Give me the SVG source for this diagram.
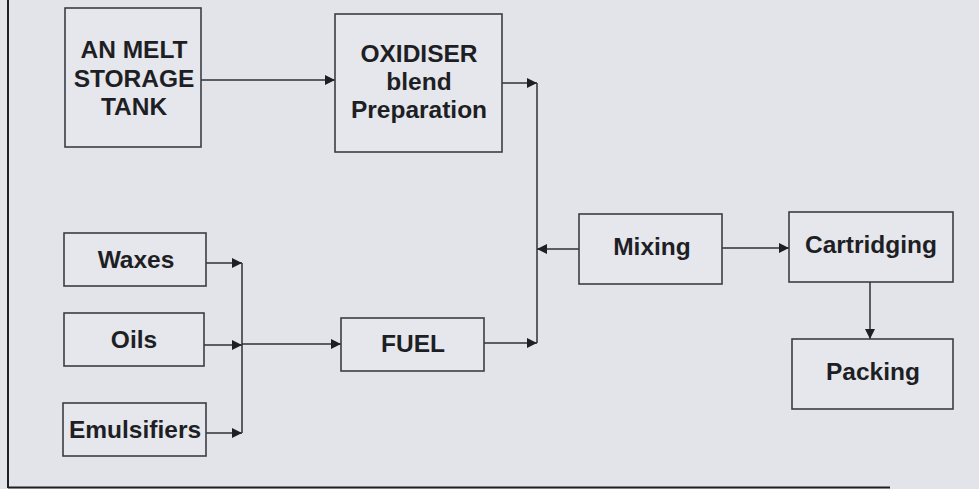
<svg xmlns="http://www.w3.org/2000/svg" width="979" height="489" viewBox="0 0 979 489">
<style>
.box{fill:#e6e7ec;stroke:#3b3e46;stroke-width:1.6}
.t{font-family:"Liberation Sans",Arial,sans-serif;font-weight:bold;font-size:24.5px;fill:#1e1f24;text-anchor:middle}
.c{fill:none;stroke:#2e3138;stroke-width:1.5}
</style>
<defs>
<marker id="ah" viewBox="0 0 10 10" refX="10" refY="5" markerWidth="11" markerHeight="10" markerUnits="userSpaceOnUse" orient="auto">
<path d="M0,0 L10,5 L0,10 Z" fill="#1e1f24"/>
</marker>
</defs>
<rect x="0" y="0" width="979" height="489" fill="#e3e4e9"/>
<line x1="8" y1="0" x2="8" y2="488" stroke="#1e1f24" stroke-width="2"/>
<line x1="8" y1="487.5" x2="890" y2="487.5" stroke="#1e1f24" stroke-width="2"/>

<g id="connectors">
<line class="c" x1="201" y1="80" x2="335" y2="80" marker-end="url(#ah)"/>
<line class="c" x1="502" y1="83" x2="537" y2="83" marker-end="url(#ah)"/>
<line class="c" x1="537" y1="83" x2="537" y2="343"/>
<line class="c" x1="484" y1="343" x2="537" y2="343" marker-end="url(#ah)"/>
<line class="c" x1="579" y1="249" x2="537" y2="249" marker-end="url(#ah)"/>
<line class="c" x1="722" y1="248" x2="789" y2="248" marker-end="url(#ah)"/>
<line class="c" x1="870" y1="282" x2="870" y2="339" marker-end="url(#ah)"/>
<line class="c" x1="206" y1="263" x2="242" y2="263" marker-end="url(#ah)"/>
<line class="c" x1="204" y1="345" x2="242" y2="345" marker-end="url(#ah)"/>
<line class="c" x1="206" y1="433" x2="242" y2="433" marker-end="url(#ah)"/>
<line class="c" x1="242" y1="263" x2="242" y2="433"/>
<line class="c" x1="242" y1="344" x2="341" y2="344" marker-end="url(#ah)"/>
</g>

<g id="an-melt">
<rect class="box" x="65" y="8" width="136" height="139"/>
<text class="t" x="134" y="58">AN MELT</text>
<text class="t" x="134" y="87">STORAGE</text>
<text class="t" x="134" y="115">TANK</text>
</g>
<g id="oxidiser">
<rect class="box" x="335" y="14" width="167" height="138"/>
<text class="t" x="419" y="62">OXIDISER</text>
<text class="t" x="419" y="90">blend</text>
<text class="t" x="419" y="118">Preparation</text>
</g>
<g id="waxes">
<rect class="box" x="64" y="233" width="142" height="53"/>
<text class="t" x="136" y="268">Waxes</text>
</g>
<g id="oils">
<rect class="box" x="64" y="313" width="140" height="53"/>
<text class="t" x="134" y="348">Oils</text>
</g>
<g id="emulsifiers">
<rect class="box" x="63" y="403" width="143" height="53"/>
<text class="t" x="135" y="438">Emulsifiers</text>
</g>
<g id="fuel">
<rect class="box" x="341" y="318" width="143" height="53"/>
<text class="t" x="413" y="352">FUEL</text>
</g>
<g id="mixing">
<rect class="box" x="579" y="214" width="143" height="70"/>
<text class="t" x="652" y="255">Mixing</text>
</g>
<g id="cartridging">
<rect class="box" x="789" y="212" width="164" height="70"/>
<text class="t" x="871" y="253">Cartridging</text>
</g>
<g id="packing">
<rect class="box" x="792" y="339" width="161" height="70"/>
<text class="t" x="873" y="380">Packing</text>
</g>
</svg>
